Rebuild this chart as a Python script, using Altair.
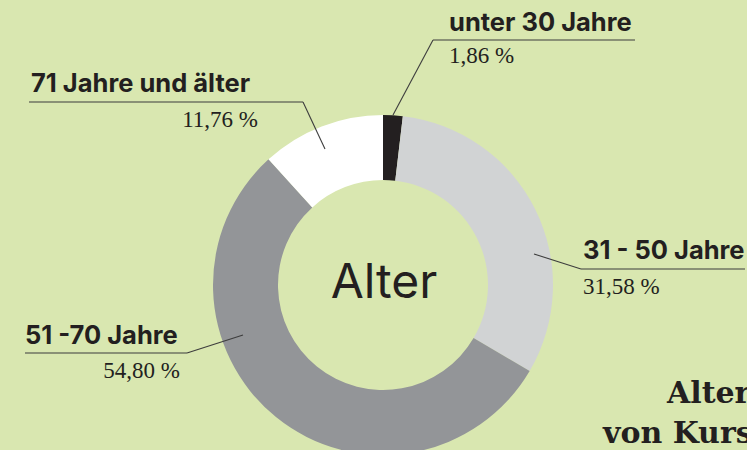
import altair as alt
import pandas as pd

# ---- data ----
categories = ["unter 30 Jahre", "31 - 50 Jahre", "51 -70 Jahre", "71 Jahre und älter"]
shares = [1.86, 31.58, 54.80, 11.76]
slice_colors = ["#231f20", "#d1d3d4", "#939598", "#ffffff"]
center_label = "Alter"
title_lines = ["Alter", "von Kurs"]


def fmt(v):
    return f"{v:.2f}".replace(".", ",") + " %"


W, H = 747, 450
CX, CY = 383, 285
BG = "#d9e7b0"
INK = "#231f20"

df = pd.DataFrame({"cat": categories, "share": shares, "order": list(range(len(categories)))})

# ---- layout (annotation positions) ----
layout = {
    "unter 30 Jahre": dict(lx=449, ly=31, la="left", px=449, py=63, pa="left",
                           line=[(393, 115), (433, 40), (635, 40)]),
    "31 - 50 Jahre": dict(lx=583, ly=259, la="left", px=583, py=294, pa="left",
                          line=[(534, 254), (581, 269), (745, 269)]),
    "51 -70 Jahre": dict(lx=25, ly=344, la="left", px=180, py=378, pa="right",
                         line=[(243, 335), (187, 353), (25, 353)]),
    "71 Jahre und älter": dict(lx=31, ly=92, la="left", px=258, py=127, pa="right",
                               line=[(325, 149), (303, 102), (29, 102)]),
}

seg_rows = []
lab_rows = []
pct_rows = []
for c, v in zip(categories, shares):
    L = layout[c]
    pts = L["line"]
    for (x1, y1), (x2, y2) in zip(pts[:-1], pts[1:]):
        seg_rows.append(dict(x=x1, y=y1, x2=x2, y2=y2))
    lab_rows.append(dict(x=L["lx"], y=L["ly"], t=c, a=L["la"]))
    pct_rows.append(dict(x=L["px"], y=L["py"], t=fmt(v), a=L["pa"]))

segs = pd.DataFrame(seg_rows)
labs = pd.DataFrame(lab_rows)
pcts = pd.DataFrame(pct_rows)

px = lambda f: alt.X(f, scale=None, axis=None)
py = lambda f: alt.Y(f, scale=None, axis=None)

donut = alt.Chart(df).mark_arc(innerRadius=105, outerRadius=170, strokeWidth=0).encode(
    theta=alt.Theta("share:Q", stack=True),
    order=alt.Order("order:Q"),
    color=alt.Color("cat:N", scale=alt.Scale(domain=categories, range=slice_colors), legend=None),
    x=alt.value(CX),
    y=alt.value(CY),
)

lines = alt.Chart(segs).mark_rule(color="#3d3d3d", strokeWidth=1.1).encode(
    x=px("x:Q"), y=py("y:Q"), x2="x2:Q", y2="y2:Q"
)

label_layer = alt.Chart(labs).mark_text(
    font="Inter", fontWeight="bold", fontSize=25.5, color=INK, align="left", baseline="alphabetic"
).encode(x=px("x:Q"), y=py("y:Q"), text="t:N")

pct_left = alt.Chart(pcts[pcts.a == "left"]).mark_text(
    font="Liberation Serif", fontSize=23, color=INK, align="left", baseline="alphabetic"
).encode(x=px("x:Q"), y=py("y:Q"), text="t:N")

pct_right = alt.Chart(pcts[pcts.a == "right"]).mark_text(
    font="Liberation Serif", fontSize=23, color=INK, align="right", baseline="alphabetic"
).encode(x=px("x:Q"), y=py("y:Q"), text="t:N")

center = alt.Chart(pd.DataFrame({"t": [center_label]})).mark_text(
    font="Inter", fontSize=48, color=INK, align="center", baseline="alphabetic"
).encode(x=alt.value(CX + 1), y=alt.value(298), text="t:N")

title = alt.Chart(pd.DataFrame({"t": title_lines, "x": [667, 603], "y": [403, 443]})).mark_text(
    font="DejaVu Serif", fontWeight="bold", fontSize=30, color=INK, align="left", baseline="alphabetic"
).encode(x=px("x:Q"), y=py("y:Q"), text="t:N")

chart = alt.layer(donut, lines, label_layer, pct_left, pct_right, center, title).properties(
    width=W, height=H, padding=0, autosize=alt.AutoSizeParams(type="none"), background=BG
).configure_view(strokeWidth=0)

chart.save("out.html", embed_options={"renderer": "svg", "actions": False})
